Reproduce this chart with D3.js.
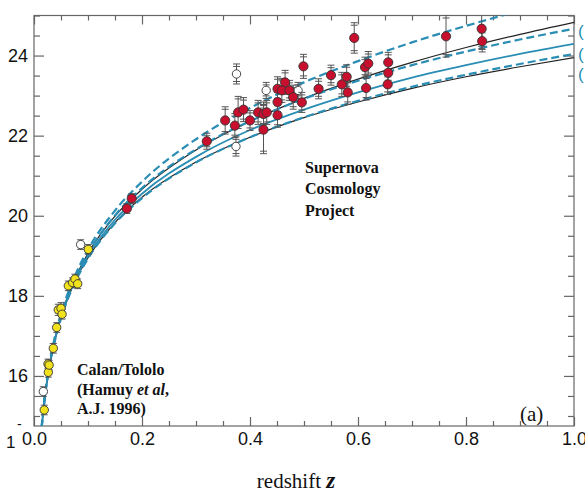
<!DOCTYPE html>
<html>
<head>
<meta charset="utf-8">
<script src="https://cdn.jsdelivr.net/npm/d3@7"></script>
<style>
  body { margin: 0; background: #fff; }
  svg { display: block; }
  .frame { fill: none; stroke: #666; stroke-width: 1.2; }
  .tick line { stroke: #666; stroke-width: 1.2; }
  .axis path.domain { display: none; }
  .axis-label text { font-family: "Liberation Sans", Arial, sans-serif; font-size: 18px; fill: #111; }
  .note { font-family: "Liberation Serif", "Times New Roman", serif; font-weight: bold; font-size: 16px; fill: #111; }
  .err { stroke: #555; stroke-width: 1; fill: none; }
  .model { fill: none; }
</style>
</head>
<body>
<div id="chart"></div>
<script>
// Calan/Tololo low-redshift supernovae (yellow)
const lowZ   = [0.019, 0.0265, 0.026, 0.028, 0.0358, 0.042, 0.045, 0.050, 0.052, 0.0636, 0.0716, 0.0759, 0.0809, 0.1006];
const lowMag = [15.15, 16.09, 16.30, 16.27, 16.69, 17.21, 17.65, 17.69, 17.54, 18.25, 18.33, 18.42, 18.30, 19.16];
const lowErr = [0.12, 0.12, 0.12, 0.12, 0.12, 0.12, 0.14, 0.14, 0.12, 0.12, 0.12, 0.12, 0.12, 0.12];

// Supernova Cosmology Project (red)
const scpZ   = [0.172, 0.181, 0.320, 0.354, 0.372, 0.378, 0.388, 0.400, 0.415, 0.425, 0.431, 0.425,
                0.451, 0.451, 0.451, 0.465, 0.459, 0.473, 0.480, 0.496, 0.499, 0.527, 0.550, 0.570,
                0.579, 0.581, 0.593, 0.613, 0.619, 0.615, 0.656, 0.656, 0.655, 0.763, 0.829, 0.830];
const scpMag = [20.18, 20.43, 21.86, 22.38, 22.25, 22.58, 22.65, 22.38, 22.58, 22.54, 22.58, 22.15,
                23.17, 22.84, 22.51, 23.33, 23.13, 23.13, 22.96, 22.83, 23.73, 23.17, 23.51, 23.28,
                23.47, 23.08, 24.44, 23.71, 23.80, 23.19, 23.83, 23.57, 23.28, 24.48, 24.67, 24.36];
const scpErr = [0.12, 0.12, 0.20, 0.34, 0.30, 0.40, 0.30, 0.25, 0.30, 0.30, 0.30, 0.60,
                0.30, 0.30, 0.30, 0.30, 0.30, 0.25, 0.30, 0.25, 0.30, 0.25, 0.25, 0.30,
                0.30, 0.30, 0.38, 0.25, 0.30, 0.30, 0.25, 0.25, 0.25, 0.52, 0.50, 0.27];

// open circles (excluded objects)
const openZ   = [0.0173, 0.0864, 0.375, 0.374, 0.430, 0.489];
const openMag = [15.61, 19.28, 23.54, 21.73, 23.13, 23.13];
const openErr = [0.12, 0.12, 0.25, 0.24, 0.20, 0.20];

// model curves, read at these redshifts
const modelZ = [0.014, 0.02, 0.03, 0.04, 0.05, 0.065, 0.08, 0.1, 0.15, 0.2, 0.3, 0.4, 0.5, 0.6, 0.7, 0.8, 0.9, 1.0];
const flat0   = [14.71, 15.50, 16.40, 17.05, 17.55, 18.15, 18.63, 19.16, 20.13, 20.85, 21.91, 22.69, 23.33, 23.86, 24.33, 24.74, 25.12, 25.46];
const open0   = [14.70, 15.48, 16.37, 17.00, 17.50, 18.08, 18.55, 19.06, 19.99, 20.66, 21.64, 22.36, 22.93, 23.41, 23.83, 24.20, 24.53, 24.83];
const flat05  = [14.70, 15.48, 16.38, 17.01, 17.51, 18.10, 18.57, 19.07, 20.01, 20.69, 21.66, 22.36, 22.92, 23.37, 23.76, 24.10, 24.40, 24.67];
const flat1   = [14.69, 15.47, 16.35, 16.98, 17.47, 18.05, 18.51, 19.00, 19.90, 20.55, 21.47, 22.14, 22.65, 23.08, 23.45, 23.76, 24.04, 24.29];
const flat15  = [14.68, 15.45, 16.33, 16.95, 17.43, 18.00, 18.45, 18.93, 19.81, 20.44, 21.33, 21.96, 22.46, 22.87, 23.22, 23.52, 23.79, 24.04];
const closed2 = [14.68, 15.46, 16.34, 16.96, 17.45, 18.02, 18.47, 18.95, 19.83, 20.46, 21.34, 21.96, 22.45, 22.84, 23.18, 23.47, 23.72, 23.95];

const yMajor = [16, 18, 20, 22, 24];
const xMajor = [0, 0.2, 0.4, 0.6, 0.8, 1.0];

const width = 585,
      height = 497,
      margin = {top: 15.5, right: 11, bottom: 71, left: 34};
const chartWidth = width - margin.left - margin.right,
      chartHeight = height - margin.top - margin.bottom;

const teal = '#2a8db4';

const svg = d3.select('#chart').append('svg')
  .attr('width', width)
  .attr('height', height);

let x = d3.scaleLinear().domain([0, 1]).range([0, chartWidth]);
let y = d3.scaleLinear().domain([14.75, 25]).range([chartHeight, 0]);

let chart = svg.append('g')
  .attr('transform', `translate(${margin.left}, ${margin.top})`);

chart.append('clipPath')
  .attr('id', 'plot-clip')
  .append('rect')
  .attr('width', chartWidth)
  .attr('height', chartHeight);

// ticks, all pointing inward
const yMinor = d3.range(15, 25.01, 0.5).filter(v => !yMajor.includes(v));
const xMinor = d3.range(0.05, 1, 0.05).filter(v => !xMajor.some(t => Math.abs(t - v) < 1e-6));

function tickSet(axis, vals, size, tx, ty) {
  chart.append('g')
    .attr('class', 'axis')
    .attr('transform', `translate(${tx}, ${ty})`)
    .call(axis.tickValues(vals).tickSize(size).tickFormat(''));
}
tickSet(d3.axisRight(y), yMinor, 6, 0, 0);
tickSet(d3.axisRight(y), yMajor, 10, 0, 0);
tickSet(d3.axisLeft(y), yMinor, 6, chartWidth, 0);
tickSet(d3.axisLeft(y), yMajor, 10, chartWidth, 0);
tickSet(d3.axisBottom(x), xMinor, 5, 0, 0);
tickSet(d3.axisBottom(x), xMajor, 9, 0, 0);
tickSet(d3.axisTop(x), xMinor, 5, 0, chartHeight);
tickSet(d3.axisTop(x), xMajor, 9, 0, chartHeight);

chart.append('rect')
  .attr('class', 'frame')
  .attr('width', chartWidth)
  .attr('height', chartHeight);

// tick labels
chart.append('g')
  .attr('class', 'axis axis-label')
  .call(d3.axisLeft(y).tickValues(yMajor).tickSize(0).tickPadding(6).tickFormat(d3.format('d')));

chart.append('g')
  .attr('class', 'axis axis-label')
  .attr('transform', `translate(0, ${chartHeight})`)
  .call(d3.axisBottom(x).tickValues(xMajor).tickSize(0).tickPadding(6).tickFormat(d3.format('.1f')));

// leftovers of a cropped label at the lower left
chart.append('text')
  .attr('x', -28).attr('y', chartHeight + 22)
  .style('font-family', 'Liberation Sans, Arial, sans-serif').style('font-size', '17px')
  .attr('fill', '#111')
  .text('1');
chart.append('text')
  .attr('x', -17).attr('y', chartHeight + 3)
  .style('font-family', 'Liberation Sans, Arial, sans-serif').style('font-size', '14px')
  .attr('fill', '#111')
  .text('-');

// model curves
let plot = chart.append('g').attr('clip-path', 'url(#plot-clip)');

const line = d3.line()
  .x((d, i) => x(modelZ[i]))
  .y(d => y(d))
  .curve(d3.curveMonotoneX);

const models = [
  {vals: closed2, color: '#222', w: 1.2, dash: null},
  {vals: open0, color: '#222', w: 1.2, dash: null},
  {vals: flat1, color: teal, w: 1.8, dash: null},
  {vals: flat15, color: teal, w: 2.2, dash: '8,4'},
  {vals: flat05, color: teal, w: 2.2, dash: '8,4'},
  {vals: flat0, color: teal, w: 2.2, dash: '8,4'}
];

plot.selectAll('.model')
  .data(models)
  .enter().append('path')
  .attr('class', 'model')
  .attr('d', d => line(d.vals))
  .attr('stroke', d => d.color)
  .attr('stroke-width', d => d.w)
  .attr('stroke-dasharray', d => d.dash);

// error bars + points
function drawSet(zs, ms, es, fill, r) {
  const data = zs.map((z, i) => ({z: z, m: ms[i], e: es[i]}));
  let g = plot.append('g');
  g.selectAll('.err')
    .data(data)
    .enter().append('path')
    .attr('class', 'err')
    .attr('d', d => {
      const cx = x(d.z), y1 = y(d.m + d.e), y2 = y(d.m - d.e);
      return `M${cx},${y1}V${y2}` +
        `M${cx - 3.5},${y1}H${cx + 3.5}M${cx - 3.5},${y1 + 2.5}H${cx + 3.5}` +
        `M${cx - 3.5},${y2}H${cx + 3.5}M${cx - 3.5},${y2 - 2.5}H${cx + 3.5}`;
    });
  g.selectAll('circle')
    .data(data)
    .enter().append('circle')
    .attr('cx', d => x(d.z))
    .attr('cy', d => y(d.m))
    .attr('r', r)
    .attr('fill', fill)
    .attr('stroke', '#333')
    .attr('stroke-width', 0.9);
}
drawSet(openZ, openMag, openErr, '#fff', 4.2);
drawSet(lowZ, lowMag, lowErr, '#f2e21b', 4.2);
drawSet(scpZ, scpMag, scpErr, '#c8102e', 4.6);

// annotations
const scp = chart.append('text').attr('class', 'note').attr('x', 271).attr('y', 157);
['Supernova', 'Cosmology', 'Project'].forEach((t, i) => {
  scp.append('tspan').attr('x', 271).attr('dy', i ? 21.5 : 0).text(t);
});

const ct = chart.append('text').attr('class', 'note').attr('x', 43).attr('y', 359.5);
ct.append('tspan').attr('x', 43).text('Calan/Tololo');
let l2 = ct.append('tspan').attr('x', 43).attr('dy', 19.5);
l2.append('tspan').text('(Hamuy ');
l2.append('tspan').style('font-style', 'italic').text('et al');
l2.append('tspan').text(',');
ct.append('tspan').attr('x', 43).attr('dy', 19.5).text('A.J. 1996)');

chart.append('text')
  .attr('x', 486).attr('y', 405)
  .style('font-family', 'Liberation Serif, Times New Roman, serif')
  .style('font-size', '21px')
  .attr('fill', '#111')
  .text('(a)');

// cropped teal legend marks past the right edge
chart.selectAll('.crop-mark')
  .data([24.62, 24.05, 23.55])
  .enter().append('text')
  .attr('x', chartWidth + 4)
  .attr('y', d => y(d) + 6)
  .style('font-family', 'Liberation Sans, Arial, sans-serif')
  .style('font-size', '17px')
  .attr('fill', teal)
  .text('(');

// axis title
const title = svg.append('text')
  .attr('x', 296).attr('y', 488)
  .attr('text-anchor', 'middle')
  .style('font-family', 'Liberation Serif, Times New Roman, serif')
  .style('font-size', '21px')
  .attr('fill', '#111');
title.append('tspan').text('redshift  ');
title.append('tspan')
  .style('font-family', 'Liberation Serif, Times New Roman, serif')
  .style('font-style', 'italic').style('font-weight', 'bold')
  .style('font-size', '23px').text('z');
</script>
</body>
</html>
